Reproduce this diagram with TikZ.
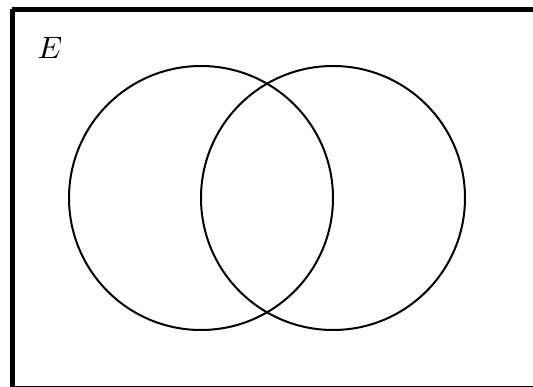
\documentclass[tikz,border=0pt]{standalone}
\begin{document}
\begin{tikzpicture}[x=1pt,y=-1pt,
  frame/.style={line width=4.5pt,draw=black},
  setcircle/.style={line width=2pt,draw=black}]
\useasboundingbox (0,0) rectangle (533,387);
\draw[frame] (12.3,9.5) -- (600,9.5) (12.3,9.5) -- (12.3,387.8) -- (600,387.8);
\node[scale=3.1] (lbl) at (50,48) {$E$};
\node[setcircle,circle,minimum size=264pt,inner sep=0pt] (A) at (201,198) {};
\node[setcircle,circle,minimum size=264pt,inner sep=0pt] (B) at (333,198) {};
\end{tikzpicture}
\end{document}
